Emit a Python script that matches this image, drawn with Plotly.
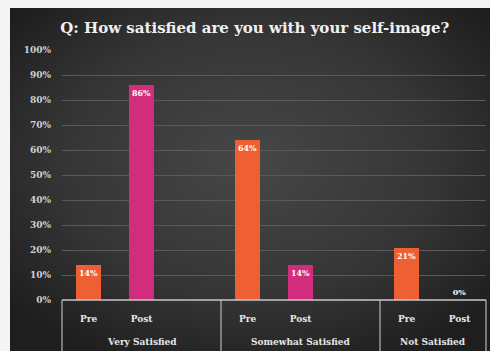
import base64
import plotly.graph_objects as go

# Survey data: share of respondents before and after the programme
groups = ["Very Satisfied", "Somewhat Satisfied", "Not Satisfied"]
phases = ["Pre", "Post"]
pre_values = [0.14, 0.64, 0.21]
post_values = [0.86, 0.14, 0.00]
y_ticks = [0, 0.1, 0.2, 0.3, 0.4, 0.5, 0.6, 0.7, 0.8, 0.9, 1.0]
y_tick_labels = ["0%", "10%", "20%", "30%", "40%", "50%", "60%", "70%", "80%", "90%", "100%"]

W, H = 490, 351
PLOT_L, PLOT_R, PLOT_T, PLOT_B = 62, 486, 50, 300

ORANGE = "#ee6033"
MAGENTA = "#d22c7c"
TEXT = "#e6e6e6"
FONT = "DejaVu Serif"

# Each group takes three slots: Pre, Post and a spacer
slot = 3
pre_x = [i * slot for i in range(len(groups))]
post_x = [i * slot + 1 for i in range(len(groups))]
x_min, x_max = -0.5, slot * (len(groups) - 1) + 1.5


def pct(v):
    return f"{round(v * 100)}%"


def label_pos(vals):
    # very short bars get their label above the bar
    return ["inside" if v >= 0.05 else "outside" for v in vals]


label_font = dict(color="white", size=8, family=FONT, weight="bold")

fig = go.Figure()
for xs, vals, name, col in [(pre_x, pre_values, "Pre", ORANGE),
                            (post_x, post_values, "Post", MAGENTA)]:
    fig.add_trace(go.Bar(
        x=xs, y=vals, name=name, marker_color=col, width=0.48,
        marker_line_width=0,
        text=[pct(v) for v in vals], textposition=label_pos(vals),
        insidetextanchor="end", textangle=0, cliponaxis=False,
        textfont=label_font, insidetextfont=label_font, outsidetextfont=label_font,
    ))

# Dark backdrop with a soft radial glow
svg = f"""<svg xmlns='http://www.w3.org/2000/svg' width='{W}' height='{H}'>
<defs><radialGradient id='g' cx='50%' cy='45%' r='65%'>
<stop offset='0%' stop-color='#474747'/>
<stop offset='60%' stop-color='#353535'/>
<stop offset='100%' stop-color='#1e1e1e'/>
</radialGradient></defs>
<rect width='{W}' height='{H}' fill='url(#g)'/></svg>"""
bg_src = "data:image/svg+xml;base64," + base64.b64encode(svg.encode()).decode()

fig.add_layout_image(dict(
    source=bg_src, xref="paper", yref="paper",
    x=10 / W, y=1 - 8 / H, sizex=1 - 10 / W, sizey=1 - 8 / H,
    xanchor="left", yanchor="top", sizing="stretch", layer="below",
))


def to_paper_x(v):
    return (PLOT_L + (v - x_min) / (x_max - x_min) * (PLOT_R - PLOT_L)) / W


# Group separators and baseline of the two-level category axis
shapes = []
bounds = [x_min + i * slot for i in range(len(groups))] + [x_max]
y_base = (H - PLOT_B) / H
for b in bounds:
    shapes.append(dict(type="line", xref="paper", yref="paper",
                       x0=to_paper_x(b), x1=to_paper_x(b), y0=y_base, y1=0,
                       line=dict(color="#b5b5b5", width=1.2)))
shapes.append(dict(type="line", xref="paper", yref="paper",
                   x0=to_paper_x(x_min), x1=to_paper_x(x_max), y0=y_base, y1=y_base,
                   line=dict(color="#c8c8c8", width=1.5)))

annotations = []
for i, g in enumerate(groups):
    left, right = bounds[i], bounds[i + 1]
    annotations.append(dict(
        x=(left + right) / 2, y=0, xref="x", yref="y", yshift=-42,
        text=g, showarrow=False, font=dict(color=TEXT, size=9, family=FONT, weight="bold"),
    ))

fig.update_layout(
    width=W, height=H,
    margin=dict(l=0, r=0, t=0, b=0),
    paper_bgcolor="#f4f4f4",
    plot_bgcolor="rgba(0,0,0,0)",
    showlegend=False,
    bargap=0,
    title=dict(
        text="Q: How satisfied are you with your self-image?",
        x=0.52, xanchor="center", y=1 - 28 / H, yanchor="middle",
        font=dict(color="#f0f0f0", size=15, family=FONT, weight="bold"),
    ),
    xaxis=dict(
        domain=[PLOT_L / W, PLOT_R / W], range=[x_min, x_max],
        tickvals=pre_x + post_x,
        ticktext=[phases[0]] * len(groups) + [phases[1]] * len(groups),
        tickfont=dict(color=TEXT, size=9, family=FONT, weight="bold"),
        showgrid=False, zeroline=False, showline=False, ticks="",
        ticklabelstandoff=12, automargin=False,
    ),
    yaxis=dict(
        domain=[(H - PLOT_B) / H, (H - PLOT_T) / H], range=[0, 1.0],
        tickvals=y_ticks, ticktext=y_tick_labels,
        tickfont=dict(color="#d0d0d0", size=9, family=FONT, weight="bold"),
        showgrid=True, gridcolor="#5a5a5a", gridwidth=1,
        zeroline=False, showline=False, ticks="",
        ticklabelstandoff=10, automargin=False,
    ),
    shapes=shapes,
    annotations=annotations,
)

fig.write_html("out.html")
